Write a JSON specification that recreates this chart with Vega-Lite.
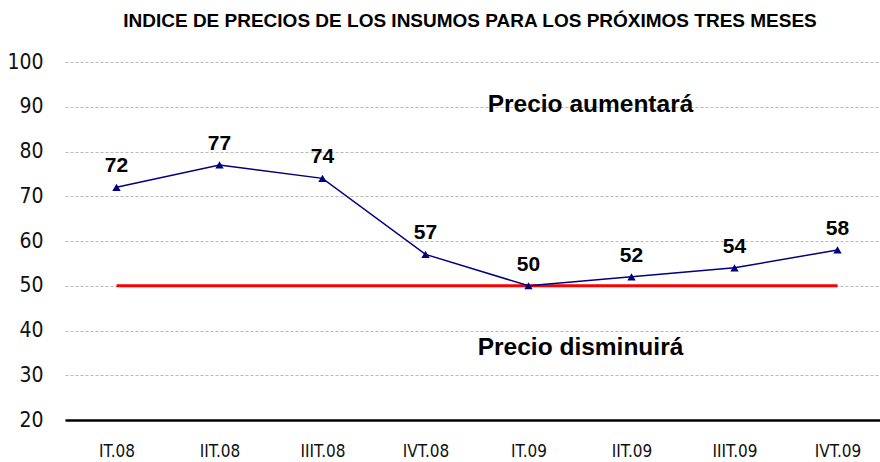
{
  "$schema": "https://vega.github.io/schema/vega-lite/v6.json",
  "width": 824,
  "height": 358,
  "autosize": "none",
  "padding": {"left": 65, "top": 62, "right": 0, "bottom": 42},
  "background": "white",
  "title": {
    "text": "INDICE DE PRECIOS DE LOS INSUMOS PARA LOS PRÓXIMOS TRES MESES",
    "font": "Liberation Sans",
    "fontSize": 19,
    "fontWeight": "bold",
    "color": "black",
    "anchor": "middle",
    "dx": -7,
    "offset": 20
  },
  "config": {"view": {"stroke": null}},
  "datasets": {
    "serie": [
      {"trimestre": "IT.08", "indice": 72, "umbral": 50},
      {"trimestre": "IIT.08", "indice": 77, "umbral": 50},
      {"trimestre": "IIIT.08", "indice": 74, "umbral": 50},
      {"trimestre": "IVT.08", "indice": 57, "umbral": 50},
      {"trimestre": "IT.09", "indice": 50, "umbral": 50},
      {"trimestre": "IIT.09", "indice": 52, "umbral": 50},
      {"trimestre": "IIIT.09", "indice": 54, "umbral": 50},
      {"trimestre": "IVT.09", "indice": 58, "umbral": 50}
    ],
    "notas_arriba": [
      {"trimestre": "IT.09", "valor": 90.4, "texto": "Precio aumentará"}
    ],
    "notas_abajo": [
      {"trimestre": "IT.09", "valor": 36, "texto": "Precio disminuirá"}
    ]
  },
  "encoding": {
    "x": {
      "field": "trimestre",
      "type": "ordinal",
      "sort": null,
      "scale": {"type": "point", "padding": 0.5},
      "axis": {
        "title": null,
        "labelAngle": 0,
        "ticks": false,
        "tickSize": 0,
        "grid": false,
        "domain": true,
        "domainColor": "black",
        "domainWidth": 2.5,
        "labelFont": "Liberation Sans Narrow, DejaVu Sans Condensed, sans-serif",
        "labelFontSize": 17,
        "labelColor": "#111111",
        "labelPadding": 23
      }
    }
  },
  "layer": [
    {
      "data": {"name": "serie"},
      "mark": {"type": "line", "color": "#ff0000", "strokeWidth": 3},
      "encoding": {
        "y": {
          "field": "umbral",
          "type": "quantitative",
          "scale": {"domain": [20, 100], "nice": false, "zero": false},
          "axis": {
            "title": null,
            "values": [20, 30, 40, 50, 60, 70, 80, 90, 100],
            "domain": false,
            "ticks": false,
            "tickSize": 0,
            "grid": true,
            "gridColor": "#b8b8b8",
            "gridDash": [3, 2],
            "gridWidth": 1,
            "labelFont": "Liberation Sans Narrow, DejaVu Sans Condensed, sans-serif",
            "labelFontSize": 21,
            "labelColor": "#111111",
            "labelPadding": 22
          }
        }
      }
    },
    {
      "data": {"name": "serie"},
      "mark": {"type": "line", "color": "#000080", "strokeWidth": 1.5},
      "encoding": {"y": {"field": "indice", "type": "quantitative"}}
    },
    {
      "data": {"name": "serie"},
      "mark": {"type": "point", "shape": "triangle-up", "filled": true, "color": "#000080", "size": 70, "opacity": 1},
      "encoding": {"y": {"field": "indice", "type": "quantitative"}}
    },
    {
      "data": {"name": "serie"},
      "mark": {"type": "text", "font": "Liberation Sans", "fontWeight": "bold", "fontSize": 21, "dy": -21, "baseline": "middle", "color": "black"},
      "encoding": {
        "y": {"field": "indice", "type": "quantitative"},
        "text": {"field": "indice", "type": "quantitative"}
      }
    },
    {
      "data": {"name": "notas_arriba"},
      "mark": {"type": "text", "font": "Liberation Sans", "fontWeight": "bold", "fontSize": 24.5, "baseline": "middle", "align": "center", "dx": 62, "color": "black"},
      "encoding": {
        "y": {"field": "valor", "type": "quantitative"},
        "text": {"field": "texto"}
      }
    },
    {
      "data": {"name": "notas_abajo"},
      "mark": {"type": "text", "font": "Liberation Sans", "fontWeight": "bold", "fontSize": 24.5, "baseline": "middle", "align": "center", "dx": 52, "color": "black"},
      "encoding": {
        "y": {"field": "valor", "type": "quantitative"},
        "text": {"field": "texto"}
      }
    }
  ]
}
